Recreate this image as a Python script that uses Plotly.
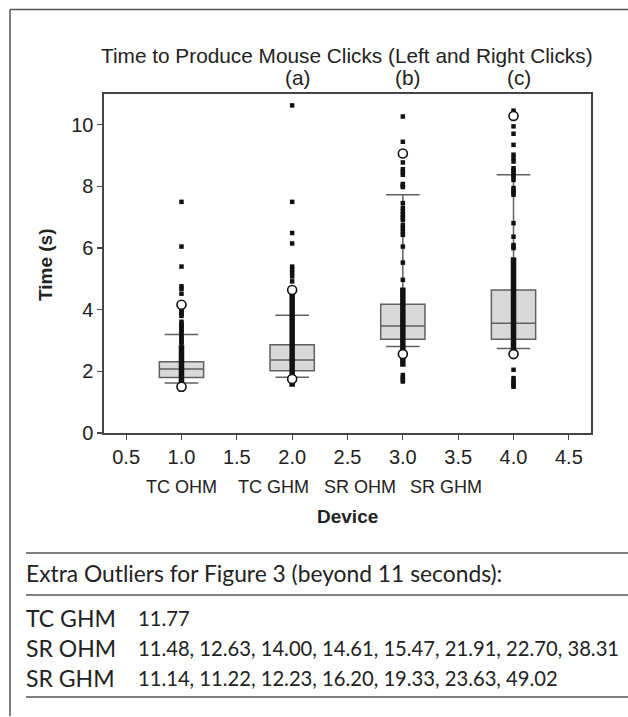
import plotly.graph_objects as go

# ---------------- data ----------------
categories = ["TC OHM", "TC GHM", "SR OHM", "SR GHM"]
positions = [1, 2, 3, 4]
q1 = [1.80, 2.02, 3.04, 3.04]
median = [2.08, 2.37, 3.47, 3.56]
q3 = [2.31, 2.86, 4.18, 4.64]
lower_whisker = [1.62, 1.81, 2.81, 2.74]
upper_whisker = [3.20, 3.82, 7.73, 8.38]

# ranges where the individual data points overlap into a solid column
dense_low = [1.34, 1.50, 2.15, 2.48]
dense_high = [2.85, 4.57, 4.72, 5.70]

points_tc_ohm = [2.91, 2.97, 3.03, 3.10, 3.16, 3.25, 3.30, 3.36, 3.42, 3.48, 3.54, 3.61,
                 3.80, 3.86, 3.92, 3.99, 4.52, 4.68, 4.76, 5.40, 6.05, 7.50]
points_tc_ghm = [4.92, 5.08, 5.20, 5.30, 5.40, 6.15, 6.49, 7.50, 10.63]
points_sr_ohm = [1.67, 1.73, 1.80, 1.88, 4.97, 5.53, 6.05, 6.43, 6.53, 6.64, 6.75, 6.92,
                 7.00, 7.08, 7.19, 7.30, 7.46, 7.98, 8.02, 8.08, 8.38, 8.47, 8.56, 8.78,
                 9.45, 10.27]
points_sr_ghm = [1.50, 1.56, 1.62, 1.70, 1.78, 2.05, 6.00, 6.05, 6.10, 6.37, 6.81, 7.73,
                 7.80, 7.87, 7.95, 8.21, 8.30, 8.38, 8.45, 8.52, 8.59, 8.81, 8.92, 9.03,
                 9.35, 9.71, 9.95, 10.38, 10.46]
points = [points_tc_ohm, points_tc_ghm, points_sr_ohm, points_sr_ghm]

open_tc_ohm = [4.16, 1.50]
open_tc_ghm = [4.64, 1.75]
open_sr_ohm = [9.07, 2.56]
open_sr_ghm = [10.29, 2.56]
open_points = [open_tc_ohm, open_tc_ghm, open_sr_ohm, open_sr_ghm]

group_letters = ["", "(a)", "(b)", "(c)"]

x_ticks = [0.5, 1.0, 1.5, 2.0, 2.5, 3.0, 3.5, 4.0, 4.5]
y_ticks = [0, 2, 4, 6, 8, 10]

extra_devices = ["TC GHM", "SR OHM", "SR GHM"]
extra_tc_ghm = [11.77]
extra_sr_ohm = [11.48, 12.63, 14.00, 14.61, 15.47, 21.91, 22.70, 38.31]
extra_sr_ghm = [11.14, 11.22, 12.23, 16.20, 19.33, 23.63, 49.02]
extra_values = [extra_tc_ghm, extra_sr_ohm, extra_sr_ghm]

# ---------------- layout helpers ----------------
FW, FH = 628, 717
L, R, T, B = 104, 37, 94, 284
PW = FW - L - R
PH = FH - T - B
BOTTOM = T + PH


def pxx(x):
    return (x - L) / PW


def pxy(y):
    return (BOTTOM - y) / PH


FONT = "Liberation Sans, Arial, Helvetica, sans-serif"
TFONT = "Lato, Open Sans, sans-serif"
TXT = "#222222"

fig = go.Figure()

for i, pos in enumerate(positions):
    fig.add_trace(go.Box(
        x=[pos], q1=[q1[i]], median=[median[i]], q3=[q3[i]],
        lowerfence=[lower_whisker[i]], upperfence=[upper_whisker[i]],
        boxpoints=False, width=0.40, whiskerwidth=0.76,
        fillcolor="#d9d9d9", line=dict(color="#606060", width=1.5),
        showlegend=False, hoverinfo="skip",
    ))

# dense columns of data points
dx, dy = [], []
for i, pos in enumerate(positions):
    dx += [pos, pos, None]
    dy += [dense_low[i], dense_high[i], None]
fig.add_trace(go.Scatter(x=dx, y=dy, mode="lines",
                         line=dict(color="#111111", width=5.5),
                         showlegend=False, hoverinfo="skip"))

# individual data points
sx, sy = [], []
for i, pos in enumerate(positions):
    sx += [pos] * len(points[i])
    sy += points[i]
fig.add_trace(go.Scatter(x=sx, y=sy, mode="markers",
                         marker=dict(symbol="square", size=4.5, color="#111111"),
                         showlegend=False, hoverinfo="skip"))

# open-circle outliers
ox, oy = [], []
for i, pos in enumerate(positions):
    ox += [pos] * len(open_points[i])
    oy += open_points[i]
fig.add_trace(go.Scatter(x=ox, y=oy, mode="markers",
                         marker=dict(symbol="circle", size=9, color="white",
                                     line=dict(color="#111111", width=1.6)),
                         showlegend=False, hoverinfo="skip"))

ann = []
ann.append(dict(text="Time to Produce Mouse Clicks (Left and Right Clicks)",
                x=pxx(347), y=pxy(55), xref="paper", yref="paper",
                showarrow=False, xanchor="center", yanchor="middle",
                font=dict(family=FONT, size=20.8, color=TXT)))
for i, pos in enumerate(positions):
    if group_letters[i]:
        ann.append(dict(text=group_letters[i], x=pos, y=pxy(77), xref="x", yref="paper",
                        xshift=5, showarrow=False, xanchor="center", yanchor="middle",
                        font=dict(family=FONT, size=20.8, color=TXT)))

cat_px = [181, 273.5, 360, 446]
for i, c in enumerate(categories):
    ann.append(dict(text=c, x=pxx(cat_px[i]), y=pxy(487), xref="paper", yref="paper",
                    showarrow=False, xanchor="center", yanchor="middle",
                    font=dict(family=FONT, size=18, color=TXT)))
ann.append(dict(text="<b>Device</b>", x=pxx(347), y=pxy(516), xref="paper", yref="paper",
                showarrow=False, xanchor="center", yanchor="middle",
                font=dict(family=FONT, size=19, color=TXT)))
ann.append(dict(text="<b>Time (s)</b>", x=pxx(45), y=pxy(265), xref="paper", yref="paper",
                showarrow=False, xanchor="center", yanchor="middle", textangle=-90,
                font=dict(family=FONT, size=19, color=TXT)))

# table of extra outliers
ann.append(dict(text="Extra Outliers for Figure 3 (beyond 11 seconds):",
                x=pxx(24), y=pxy(573), xref="paper", yref="paper",
                showarrow=False, xanchor="left", yanchor="middle",
                font=dict(family=TFONT, size=22.8, color=TXT)))
row_y = [618, 648, 678]
for i, dev in enumerate(extra_devices):
    ann.append(dict(text=dev, x=pxx(24), y=pxy(row_y[i]), xref="paper", yref="paper",
                    showarrow=False, xanchor="left", yanchor="middle",
                    font=dict(family=TFONT, size=23, color=TXT)))
    ann.append(dict(text=", ".join("%.2f" % v for v in extra_values[i]),
                    x=pxx(136), y=pxy(row_y[i]), xref="paper", yref="paper",
                    showarrow=False, xanchor="left", yanchor="middle",
                    font=dict(family=TFONT, size=20.2, color=TXT)))

shapes = []
LC = "#555555"
for yline in [553, 595, 697]:
    shapes.append(dict(type="line", xref="paper", yref="paper",
                       x0=pxx(26), x1=pxx(640), y0=pxy(yline), y1=pxy(yline),
                       line=dict(color=LC, width=1.5)))
# outer frame (top and left)
shapes.append(dict(type="line", xref="paper", yref="paper",
                   x0=pxx(10), x1=pxx(640), y0=pxy(9.5), y1=pxy(9.5),
                   line=dict(color=LC, width=1.5)))
shapes.append(dict(type="line", xref="paper", yref="paper",
                   x0=pxx(10), x1=pxx(10), y0=pxy(9.5), y1=pxy(716),
                   line=dict(color=LC, width=1.5)))

axis_common = dict(showline=True, linecolor="#444444", linewidth=1.6, mirror=True,
                   ticks="outside", ticklen=5, tickcolor="#444444", tickwidth=1.2,
                   showgrid=False, zeroline=False,
                   tickfont=dict(family=FONT, size=20, color=TXT))

fig.update_layout(
    width=FW, height=FH,
    margin=dict(l=L, r=R, t=T, b=B, pad=0),
    paper_bgcolor="white", plot_bgcolor="white",
    xaxis=dict(range=[0.3, 4.7], tickvals=x_ticks,
               ticktext=["%.1f" % v for v in x_ticks], **axis_common),
    yaxis=dict(range=[0, 11], tickvals=y_ticks,
               ticktext=[str(v) for v in y_ticks], **axis_common),
    annotations=ann, shapes=shapes, showlegend=False,
)

fig.write_html(
    "out.html",
    config={"displayModeBar": False, "staticPlot": True},
    post_script="document.body.style.margin='0';document.body.style.padding='0';"
                "document.body.style.overflow='hidden';",
)
